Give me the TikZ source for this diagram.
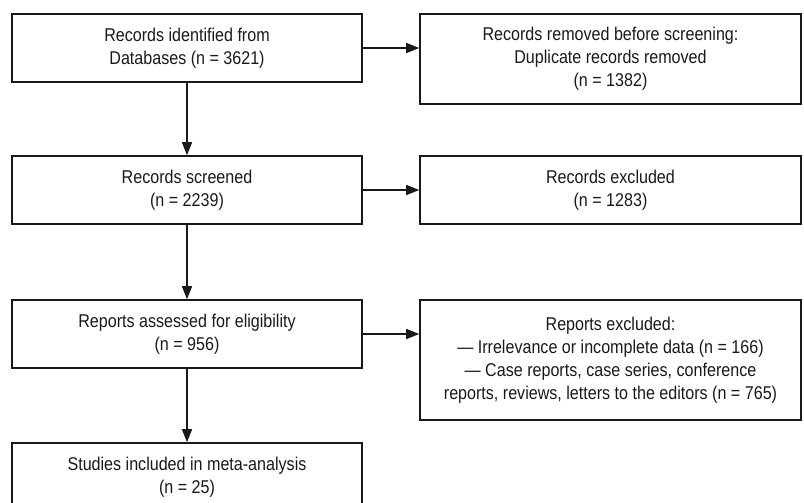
\documentclass[tikz,border=0pt]{standalone}
\usepackage{fontspec}
\setmainfont{Liberation Sans}[FakeStretch=0.87]
\usetikzlibrary{arrows.meta}

\begin{document}
\begin{tikzpicture}[x=1pt, y=-1pt, line width=1.5pt,
	flowbox/.style={draw=black!90, line width=1.6pt, align=center, inner sep=0pt, text=black!90, font=\fontsize{18.5}{23}\selectfont},
	leftbox/.style={flowbox, minimum width=350pt, minimum height=68pt},
	rightbox/.style={flowbox, minimum width=381pt},
	flowarrow/.style={draw=black!90, -{Triangle[length=13pt, width=10pt]}, line width=1.5pt}]
	\useasboundingbox (0, 0) rectangle (804, 503);
	\clip (0, 0) rectangle (804, 503);

	% left column
	\node[leftbox] (identified) at (187, 48) {Records identified from\\Databases (n = 3621)};
	\node[leftbox] (screened) at (187, 190) {Records screened\\(n = 2239)};
	\node[leftbox] (assessed) at (187, 334) {Reports assessed for eligibility\\(n = 956)};
	\node[leftbox] (included) at (187, 477) {Studies included in meta-analysis\\(n = 25)};

	% right column
	\node[rightbox, minimum height=90pt] (removed) at (610.5, 59) {Records removed before screening:\\Duplicate records removed\\(n = 1382)};
	\node[rightbox, minimum height=68pt] (excluded) at (610.5, 190) {Records excluded\\(n = 1283)};
	\node[rightbox, minimum height=120pt] (reportsout) at (610.5, 360) {Reports excluded:\\--- Irrelevance or incomplete data (n = 166)\\--- Case reports, case series, conference\\reports, reviews, letters to the editors (n = 765)};

	% arrows
	\draw[flowarrow] (identified.east) -- (removed.west |- identified.east);
	\draw[flowarrow] (screened.east) -- (excluded.west |- screened.east);
	\draw[flowarrow] (assessed.east) -- (reportsout.west |- assessed.east);
	\foreach \a/\b in {identified/screened, screened/assessed, assessed/included} {
		\draw[flowarrow] (\a.south) -- (\b.north);
	}
\end{tikzpicture}
\end{document}
